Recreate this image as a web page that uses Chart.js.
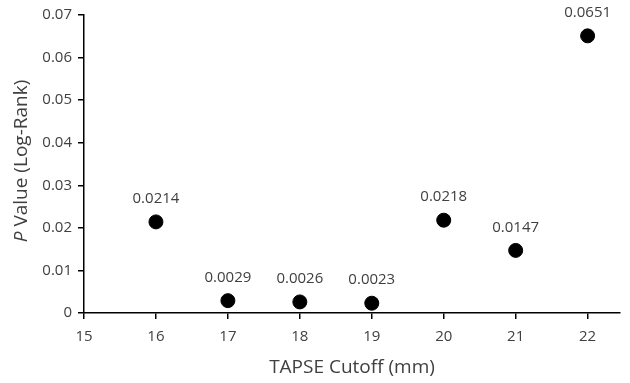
<!DOCTYPE html>
<html>
<head>
<meta charset="utf-8">
<script src="https://cdn.jsdelivr.net/npm/chart.js@4/dist/chart.umd.min.js"></script>
<style>
  body { margin: 0; background: #fff; }
  canvas { display: block; }
</style>
</head>
<body>
<canvas id="chart" width="630" height="383"></canvas>
<script>
// TAPSE cutoff vs log-rank p value
const cutoffs = [16, 17, 18, 19, 20, 21, 22];
const pValues = [0.0214, 0.0029, 0.0026, 0.0023, 0.0218, 0.0147, 0.0651];

const textColor = '#404040';
const fontFamily = '"Open Sans", "Liberation Sans", sans-serif';

// Labels above each point
const pointLabels = {
    id: 'pointLabels',
    afterDatasetsDraw(chart) {
        const ctx = chart.ctx;
        const meta = chart.getDatasetMeta(0);
        ctx.save();
        ctx.font = '15px ' + fontFamily;
        ctx.fillStyle = textColor;
        ctx.textAlign = 'center';
        ctx.textBaseline = 'middle';
        meta.data.forEach((pt, i) => {
            ctx.fillText(pValues[i].toFixed(4), pt.x, pt.y - 23);
        });
        ctx.restore();
    }
};

// Y title with italic P
const yTitle = {
    id: 'yTitle',
    afterDraw(chart) {
        const ctx = chart.ctx;
        const italic = 'italic 19px ' + fontFamily;
        const normal = '19px ' + fontFamily;
        ctx.save();
        ctx.translate(22, 161);
        ctx.rotate(-Math.PI / 2);
        ctx.fillStyle = textColor;
        ctx.textBaseline = 'middle';
        ctx.font = italic;
        const w1 = ctx.measureText('P').width;
        ctx.font = normal;
        const rest = ' Value (Log-Rank)';
        const w2 = ctx.measureText(rest).width;
        let x = -(w1 + w2) / 2;
        ctx.font = italic;
        ctx.fillText('P', x, 0);
        ctx.font = normal;
        ctx.fillText(rest, x + w1, 0);
        ctx.restore();
    }
};

new Chart(document.getElementById('chart'), {
    type: 'scatter',
    data: {
        datasets: [{
            data: cutoffs.map((c, i) => ({ x: c, y: pValues[i] })),
            backgroundColor: '#000',
            borderColor: '#000',
            pointRadius: 7,
            pointHoverRadius: 7
        }]
    },
    options: {
        responsive: false,
        animation: false,
        layout: { padding: { top: 15, right: 10, left: 0, bottom: 0 } },
        plugins: {
            legend: { display: false },
            tooltip: { enabled: false }
        },
        scales: {
            x: {
                type: 'linear',
                min: 15,
                max: 22.45,
                border: { color: '#000', width: 1.5 },
                grid: { drawOnChartArea: false, tickLength: 6, color: '#000', lineWidth: 1.5 },
                ticks: {
                    stepSize: 1,
                    includeBounds: false,
                    color: textColor,
                    font: { size: 15, family: fontFamily },
                    padding: 9
                },
                title: {
                    display: true,
                    text: 'TAPSE Cutoff (mm)',
                    color: textColor,
                    font: { size: 19, family: fontFamily },
                    padding: { top: 2 }
                },
                afterFit(scale) { scale.height = 70; }
            },
            y: {
                min: 0,
                max: 0.07,
                border: { color: '#000', width: 1.5 },
                grid: { drawOnChartArea: false, tickLength: 6, color: '#000', lineWidth: 1.5 },
                ticks: {
                    stepSize: 0.01,
                    color: textColor,
                    font: { size: 15, family: fontFamily },
                    padding: 6,
                    callback: v => v === 0 ? '0' : v.toFixed(2)
                },
                afterFit(scale) { scale.width = 84; }
            }
        }
    },
    plugins: [pointLabels, yTitle]
});
</script>
</body>
</html>
